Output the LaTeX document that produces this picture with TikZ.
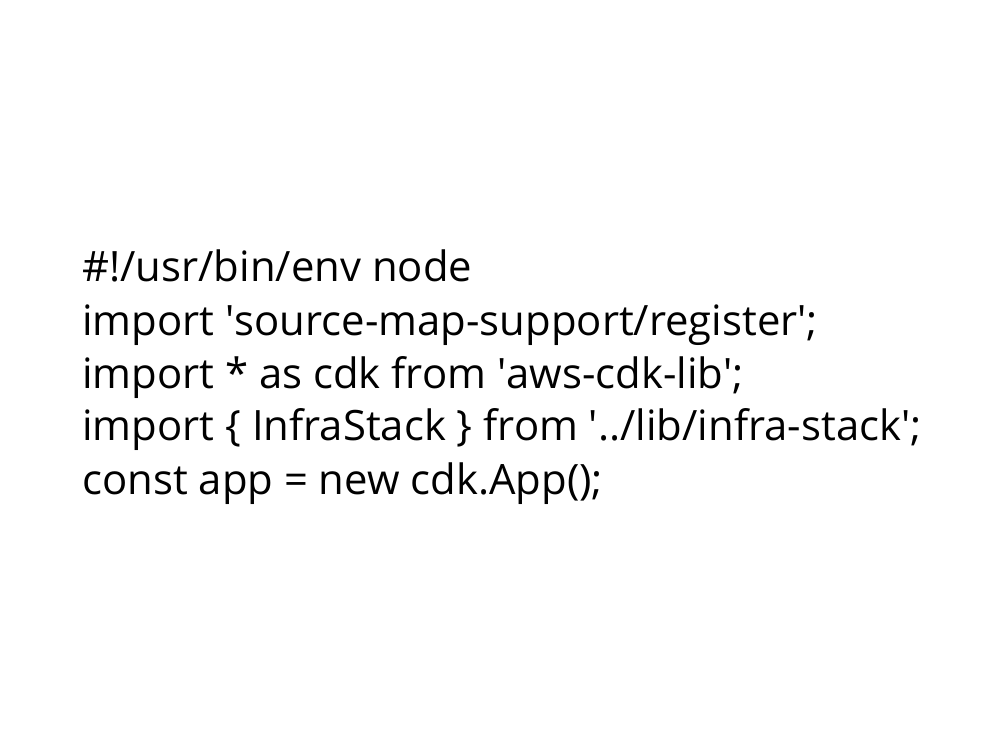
\documentclass[tikz,border=0pt]{standalone}
\usepackage{fontspec}
\setmainfont{Open Sans}
\usetikzlibrary{positioning}
\newcommand{\q}{\textquotesingle}
\begin{document}
\begin{tikzpicture}
   \tikzstyle{codeline} = [anchor=base west, inner sep=0pt, font=\fontsize{23.8}{26}\selectfont]
   \useasboundingbox (0,0) rectangle (20,15);
   \node[codeline] (shebang) at (1.64,9.36)  {\#!/usr/bin/env node};
   \node[codeline] (register) at (1.64,8.28)  {import \q source-map-support/register\q;};
   \node[codeline] (cdk) at (1.64,7.24)  {import * as cdk from \q aws-cdk-lib\q;};
   \node[codeline] (stack) at (1.64,6.20)  {import \{ InfraStack \} from \q../lib/infra-stack\q;};
   \node[codeline] (app) at (1.64,5.12)  {const app = new cdk.App();};
\end{tikzpicture}
\end{document}
